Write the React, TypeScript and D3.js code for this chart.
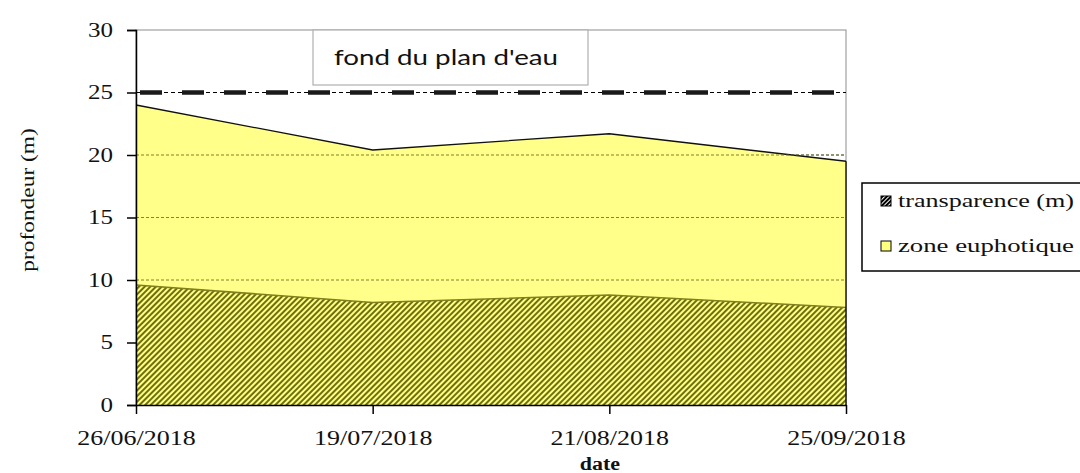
import * as d3 from "d3";
import React, { useRef, useEffect } from "react";

const dates = ["26/06/2018", "19/07/2018", "21/08/2018", "25/09/2018"];
const transparence = [9.6, 8.2, 8.8, 7.8];
const zoneEuphotique = [24.0, 20.4, 21.7, 19.5];
const fondPlanEau = 25;
const yTicks = [0, 5, 10, 15, 20, 25, 30];

const W = 1080;
const H = 473;
const M = { left: 136, right: 846, top: 30, bottom: 405 };
const SERIF = "'Liberation Serif', 'Times New Roman', serif";

// the original text is rendered wider than normal, so stretch it
const stretch = (sel: any, k: number) => {
  sel.each(function (this: SVGTextElement) {
    const w = this.getComputedTextLength();
    this.setAttribute("textLength", String(w * k));
    this.setAttribute("lengthAdjust", "spacingAndGlyphs");
  });
};

const App = () => {
  const ref = useRef<SVGSVGElement>(null);

  useEffect(() => {
    const svg = d3.select(ref.current);
    svg.selectAll("*").remove();

    const x = d3.scalePoint().domain(dates).range([M.left, M.right]);
    const y = d3.scaleLinear().domain([0, 30]).range([M.bottom, M.top]);

    const defs = svg.append("defs");
    const hatch = defs
      .append("pattern")
      .attr("id", "hatch")
      .attr("patternUnits", "userSpaceOnUse")
      .attr("width", 4)
      .attr("height", 4)
      .attr("patternTransform", "rotate(45)");
    hatch.append("rect").attr("width", 4).attr("height", 4).attr("fill", "#ffff80");
    hatch.append("rect").attr("width", 2).attr("height", 4).attr("fill", "#6e6e14");

    const hatchBW = defs
      .append("pattern")
      .attr("id", "hatchbw")
      .attr("patternUnits", "userSpaceOnUse")
      .attr("width", 3)
      .attr("height", 3)
      .attr("patternTransform", "rotate(45)");
    hatchBW.append("rect").attr("width", 3).attr("height", 3).attr("fill", "#fff");
    hatchBW.append("rect").attr("width", 2).attr("height", 3).attr("fill", "#000");

    // plot frame (top / right)
    svg
      .append("rect")
      .attr("x", M.left)
      .attr("y", M.top)
      .attr("width", M.right - M.left)
      .attr("height", M.bottom - M.top)
      .attr("fill", "none")
      .attr("stroke", "#a0a0a0")
      .attr("stroke-width", 1.2);

    // grid lines
    svg
      .selectAll("line.grid")
      .data([5, 10, 15, 20])
      .join("line")
      .attr("x1", M.left)
      .attr("x2", M.right)
      .attr("y1", (d) => y(d))
      .attr("y2", (d) => y(d))
      .attr("stroke", "#333")
      .attr("stroke-width", 0.8)
      .attr("stroke-dasharray", "3,2");

    const idx = dates.map((_, i) => i);

    // zone euphotique
    const areaEu = d3
      .area<number>()
      .x((i) => x(dates[i])!)
      .y0(y(0))
      .y1((i) => y(zoneEuphotique[i]));
    svg.append("path").attr("d", areaEu(idx)).attr("fill", "#ffff80").attr("fill-opacity", 0.92);
    svg
      .append("path")
      .attr(
        "d",
        d3
          .line<number>()
          .x((i) => x(dates[i])!)
          .y((i) => y(zoneEuphotique[i]))(idx)
      )
      .attr("fill", "none")
      .attr("stroke", "#111")
      .attr("stroke-width", 1.3);

    // grid lines over yellow
    svg
      .selectAll("line.grid2")
      .data([5, 10, 15, 20])
      .join("line")
      .attr("x1", M.left)
      .attr("x2", M.right)
      .attr("y1", (d) => y(d))
      .attr("y2", (d) => y(d))
      .attr("stroke", "#6a6a20")
      .attr("stroke-width", 0.8)
      .attr("stroke-dasharray", "3,2");

    // transparence
    const areaTr = d3
      .area<number>()
      .x((i) => x(dates[i])!)
      .y0(y(0))
      .y1((i) => y(transparence[i]));
    svg.append("path").attr("d", areaTr(idx)).attr("fill", "url(#hatch)");
    svg
      .append("path")
      .attr(
        "d",
        d3
          .line<number>()
          .x((i) => x(dates[i])!)
          .y((i) => y(transparence[i]))(idx)
      )
      .attr("fill", "none")
      .attr("stroke", "#80801e")
      .attr("stroke-width", 1.5);

    // right edge of area
    svg
      .append("line")
      .attr("x1", M.right)
      .attr("x2", M.right)
      .attr("y1", y(zoneEuphotique[3]))
      .attr("y2", M.bottom)
      .attr("stroke", "#000")
      .attr("stroke-width", 1.3);

    // fond du plan d'eau
    svg
      .append("line")
      .attr("x1", M.left)
      .attr("x2", M.right)
      .attr("y1", y(fondPlanEau))
      .attr("y2", y(fondPlanEau))
      .attr("stroke", "#000")
      .attr("stroke-width", 1)
      .attr("stroke-dasharray", "4,3");
    svg
      .append("line")
      .attr("x1", M.left + 4)
      .attr("x2", M.right)
      .attr("y1", y(fondPlanEau))
      .attr("y2", y(fondPlanEau))
      .attr("stroke", "#1a1a1a")
      .attr("stroke-width", 4.5)
      .attr("stroke-dasharray", "22,20");

    // annotation box
    svg
      .append("rect")
      .attr("x", 313)
      .attr("y", M.top)
      .attr("width", 275)
      .attr("height", 55)
      .attr("fill", "#fff")
      .attr("stroke", "#b0b0b0")
      .attr("stroke-width", 1.2);
    svg
      .append("text")
      .attr("x", 334)
      .attr("y", 65)
      .attr("textLength", 224)
      .attr("lengthAdjust", "spacingAndGlyphs")
      .attr("font-family", "Lato, 'Open Sans', sans-serif")
      .attr("font-size", 22)
      .attr("fill", "#111")
      .text("fond du plan d'eau");

    // axes
    const yAxis = svg
      .append("g")
      .attr("transform", `translate(${M.left},0)`)
      .call(d3.axisLeft(y).tickValues(yTicks).tickSize(9).tickPadding(14));
    yAxis.select(".domain").attr("stroke", "#000").attr("stroke-width", 1.5);
    yAxis.selectAll(".tick line").attr("stroke", "#000").attr("stroke-width", 1.5);
    yAxis
      .selectAll(".tick text")
      .attr("font-family", SERIF)
      .attr("font-size", 20)
      .attr("fill", "#111");
    stretch(yAxis.selectAll(".tick text"), 1.25);

    const xAxis = svg
      .append("g")
      .attr("transform", `translate(0,${M.bottom})`)
      .call(d3.axisBottom(x).tickSize(9).tickPadding(17).tickSizeOuter(0));
    xAxis.select(".domain").attr("stroke", "#000").attr("stroke-width", 1.5);
    xAxis.selectAll(".tick line").attr("stroke", "#000").attr("stroke-width", 1.5);
    xAxis
      .selectAll(".tick text")
      .attr("font-family", SERIF)
      .attr("font-size", 20)
      .attr("fill", "#111");
    stretch(xAxis.selectAll(".tick text"), 1.3);

    const dateLabel = svg
      .append("text")
      .attr("x", 600)
      .attr("y", 470)
      .attr("text-anchor", "middle")
      .attr("font-family", SERIF)
      .attr("font-weight", "bold")
      .attr("font-size", 18)
      .attr("fill", "#111")
      .text("date");
    stretch(dateLabel, 1.22);

    const yLabel = svg
      .append("text")
      .attr("transform", `translate(34,200) rotate(-90)`)
      .attr("text-anchor", "middle")
      .attr("font-family", SERIF)
      .attr("font-size", 18)
      .attr("fill", "#111")
      .text("profondeur (m)");
    stretch(yLabel, 1.3);

    // legend
    const lg = svg.append("g");
    lg.append("rect")
      .attr("x", 862)
      .attr("y", 183)
      .attr("width", 240)
      .attr("height", 88)
      .attr("fill", "#fff")
      .attr("stroke", "#000")
      .attr("stroke-width", 1.5);
    const items = [
      { label: "transparence (m)", fill: "url(#hatchbw)", yy: 201 },
      { label: "zone euphotique", fill: "#ffff80", yy: 246 },
    ];
    items.forEach((it) => {
      lg.append("rect")
        .attr("x", 881)
        .attr("y", it.yy - 5)
        .attr("width", 10)
        .attr("height", 10)
        .attr("fill", it.fill)
        .attr("stroke", "#000")
        .attr("stroke-width", 1);
      lg.append("text")
        .attr("x", 898)
        .attr("y", it.yy + 6)
        .attr("textLength", 176)
        .attr("lengthAdjust", "spacingAndGlyphs")
        .attr("font-family", SERIF)
        .attr("font-size", 19)
        .attr("fill", "#111")
        .text(it.label);
    });
  }, []);

  return (
    <svg
      ref={ref}
      width={W}
      height={H}
      style={{ position: "absolute", left: 0, top: 0, background: "#fff" }}
    ></svg>
  );
};

export default App;
